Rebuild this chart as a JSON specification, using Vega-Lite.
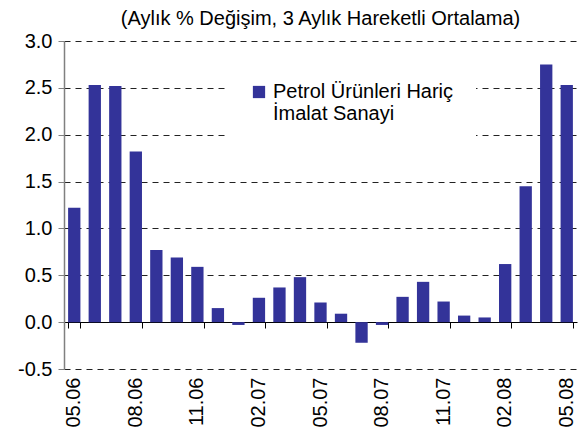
{
  "$schema": "https://vega.github.io/schema/vega-lite/v6.json",
  "width": 513,
  "height": 328,
  "autosize": {"type": "none"},
  "padding": {"left": 64, "top": 41, "right": 8, "bottom": 72},
  "title": {"text": "(Aylık % Değişim, 3 Aylık Hareketli Ortalama)", "fontSize": 20, "font": "Liberation Sans", "fontWeight": "normal", "color": "#000000", "offset": 2, "anchor": "middle"},
  "config": {"view": {"stroke": null}, "font": "Liberation Sans"},
  "data": {"values": [
    {"month": "05.06", "value": 1.22, "series": "Petrol Ürünleri Hariç İmalat Sanayi"},
    {"month": "06.06", "value": 2.53, "series": "Petrol Ürünleri Hariç İmalat Sanayi"},
    {"month": "07.06", "value": 2.52, "series": "Petrol Ürünleri Hariç İmalat Sanayi"},
    {"month": "08.06", "value": 1.82, "series": "Petrol Ürünleri Hariç İmalat Sanayi"},
    {"month": "09.06", "value": 0.77, "series": "Petrol Ürünleri Hariç İmalat Sanayi"},
    {"month": "10.06", "value": 0.69, "series": "Petrol Ürünleri Hariç İmalat Sanayi"},
    {"month": "11.06", "value": 0.59, "series": "Petrol Ürünleri Hariç İmalat Sanayi"},
    {"month": "12.06", "value": 0.15, "series": "Petrol Ürünleri Hariç İmalat Sanayi"},
    {"month": "01.07", "value": -0.03, "series": "Petrol Ürünleri Hariç İmalat Sanayi"},
    {"month": "02.07", "value": 0.26, "series": "Petrol Ürünleri Hariç İmalat Sanayi"},
    {"month": "03.07", "value": 0.37, "series": "Petrol Ürünleri Hariç İmalat Sanayi"},
    {"month": "04.07", "value": 0.48, "series": "Petrol Ürünleri Hariç İmalat Sanayi"},
    {"month": "05.07", "value": 0.21, "series": "Petrol Ürünleri Hariç İmalat Sanayi"},
    {"month": "06.07", "value": 0.09, "series": "Petrol Ürünleri Hariç İmalat Sanayi"},
    {"month": "07.07", "value": -0.22, "series": "Petrol Ürünleri Hariç İmalat Sanayi"},
    {"month": "08.07", "value": -0.03, "series": "Petrol Ürünleri Hariç İmalat Sanayi"},
    {"month": "09.07", "value": 0.27, "series": "Petrol Ürünleri Hariç İmalat Sanayi"},
    {"month": "10.07", "value": 0.43, "series": "Petrol Ürünleri Hariç İmalat Sanayi"},
    {"month": "11.07", "value": 0.22, "series": "Petrol Ürünleri Hariç İmalat Sanayi"},
    {"month": "12.07", "value": 0.07, "series": "Petrol Ürünleri Hariç İmalat Sanayi"},
    {"month": "01.08", "value": 0.05, "series": "Petrol Ürünleri Hariç İmalat Sanayi"},
    {"month": "02.08", "value": 0.62, "series": "Petrol Ürünleri Hariç İmalat Sanayi"},
    {"month": "03.08", "value": 1.45, "series": "Petrol Ürünleri Hariç İmalat Sanayi"},
    {"month": "04.08", "value": 2.75, "series": "Petrol Ürünleri Hariç İmalat Sanayi"},
    {"month": "05.08", "value": 2.53, "series": "Petrol Ürünleri Hariç İmalat Sanayi"}
  ]},
  "layer": [
    {
      "mark": {"type": "bar"},
      "encoding": {
        "x": {"field": "month", "type": "ordinal", "sort": null,
          "scale": {"paddingInner": 0.4, "paddingOuter": 0.2},
          "axis": {"title": null, "orient": "bottom", "values": ["05.06", "08.06", "11.06", "02.07", "05.07", "08.07", "11.07", "02.08", "05.08"],
            "labelAngle": -90, "labelAlign": "right", "labelBaseline": "middle", "labelFontSize": 20, "labelColor": "#000000",
            "labelPadding": 8, "ticks": false, "domain": false, "grid": false}},
        "y": {"field": "value", "type": "quantitative",
          "scale": {"domain": [-0.5, 3], "nice": false, "zero": false},
          "axis": {"title": null, "values": [-0.5, 0, 0.5, 1, 1.5, 2, 2.5, 3],
            "labelExpr": "replace(format(datum.value, '.1f'), '\u2212', '-')",
            "labelFontSize": 20, "labelColor": "#000000", "labelPadding": 6,
            "tickSize": 6, "tickColor": "#808080", "domainColor": "#808080", "domainWidth": 1.5,
            "grid": true, "gridColor": "#222222", "gridDash": [6, 5], "gridWidth": 1}},
        "color": {"field": "series", "type": "nominal", "scale": {"range": ["#333399"]},
          "legend": {"title": null, "orient": "none", "legendX": 163, "legendY": 19, "padding": 22,
            "fillColor": "#ffffff", "strokeColor": null, "symbolType": "square", "symbolSize": 150,
            "symbolStrokeWidth": 0, "labelFontSize": 20, "labelColor": "#000000", "labelLimit": 400,
            "labelExpr": "[slice(datum.label, 0, 21), slice(datum.label, 22)]"}}
      }
    },
    {
      "mark": {"type": "bar", "opacity": 0},
      "encoding": {
        "x": {"field": "month", "type": "ordinal", "sort": null,
          "axis": {"title": null, "orient": "bottom", "values": ["05.06", "08.06", "11.06", "02.07", "05.07", "08.07", "11.07", "02.08", "05.08"],
            "labels": false, "ticks": true, "tickBand": "extent", "tickSize": 6, "tickColor": "#000000",
            "domain": true, "domainColor": "#000000", "domainWidth": 1.2, "offset": -47, "grid": false}},
        "y": {"field": "value", "type": "quantitative"}
      }
    }
  ],
  "resolve": {"axis": {"x": "independent"}}
}
